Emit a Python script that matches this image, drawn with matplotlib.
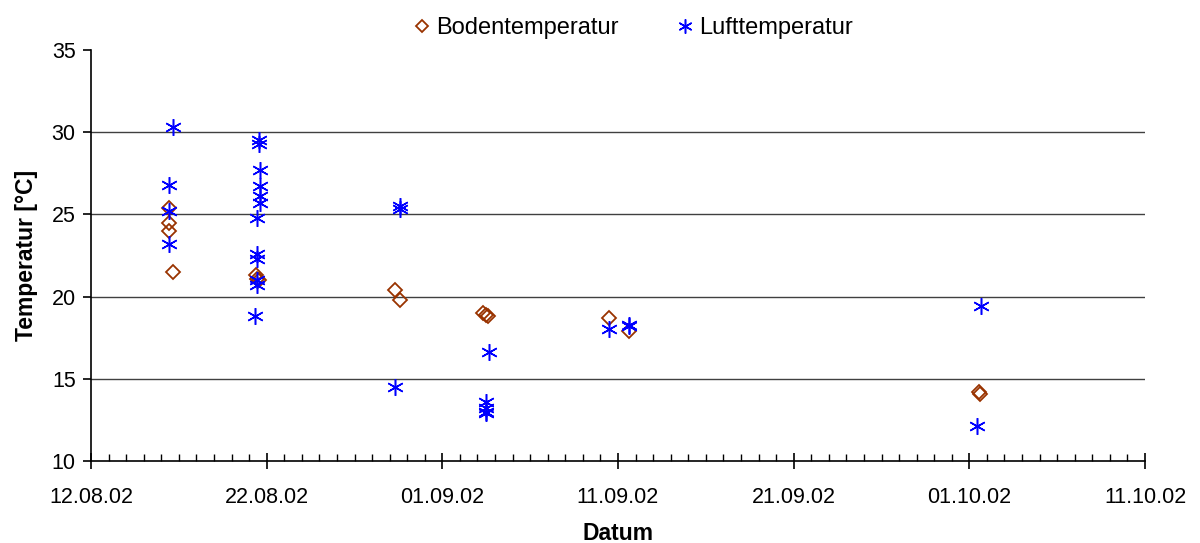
import numpy as np
import pandas as pd
import matplotlib
matplotlib.use("Agg")
import matplotlib.pyplot as plt
import matplotlib.dates as mdates

plt.rcParams['font.family'] = ['Liberation Sans', 'DejaVu Sans']

# Bodentemperatur (soil)
boden_zeit = ["2002-08-16 11:00", "2002-08-16 11:00", "2002-08-16 11:00", "2002-08-16 15:30",
              "2002-08-21 09:30", "2002-08-21 10:30", "2002-08-21 13:00",
              "2002-08-29 07:00", "2002-08-29 14:00",
              "2002-09-03 08:00", "2002-09-03 12:00", "2002-09-03 15:00",
              "2002-09-10 11:30", "2002-09-11 15:00",
              "2002-10-01 13:00", "2002-10-01 14:30"]
boden_temp = [25.4, 24.5, 24.0, 21.5,
              21.3, 21.1, 21.0,
              20.4, 19.8,
              19.0, 18.9, 18.8,
              18.7, 17.9,
              14.2, 14.1]

# Lufttemperatur (air)
luft_zeit = ["2002-08-16 15:30", "2002-08-16 11:00", "2002-08-16 11:00", "2002-08-16 10:30",
             "2002-08-21 13:30", "2002-08-21 13:30", "2002-08-21 15:30", "2002-08-21 15:00",
             "2002-08-21 15:00", "2002-08-21 14:30", "2002-08-21 10:30", "2002-08-21 11:00",
             "2002-08-21 11:00", "2002-08-21 11:00", "2002-08-21 11:00", "2002-08-21 08:30",
             "2002-08-29 14:00", "2002-08-29 14:30", "2002-08-29 07:30",
             "2002-09-03 15:30", "2002-09-03 11:00", "2002-09-03 11:00", "2002-09-03 11:00",
             "2002-09-03 11:30",
             "2002-09-10 11:30", "2002-09-11 15:00", "2002-09-11 15:00",
             "2002-10-01 15:30", "2002-10-01 11:00"]
luft_temp = [30.3, 26.8, 25.2, 23.2,
             29.5, 29.3, 27.7, 26.7,
             26.1, 25.7, 24.8, 22.6,
             22.3, 21.0, 20.7, 18.8,
             25.5, 25.3, 14.5,
             16.6, 13.6, 13.2, 13.0,
             12.9,
             18.0, 18.3, 18.2,
             19.4, 12.1]

x_ticks = ["2002-08-12", "2002-08-22", "2002-09-01", "2002-09-11",
           "2002-09-21", "2002-10-01", "2002-10-11"]

boden_x = mdates.date2num(pd.to_datetime(boden_zeit))
luft_x = mdates.date2num(pd.to_datetime(luft_zeit))
tick_x = mdates.date2num(pd.to_datetime(x_ticks))

fig = plt.figure(figsize=(12, 5.43), dpi=100)
ax = fig.add_axes([91 / 1200, 1 - 461 / 543, (1145 - 91) / 1200, (461 - 50) / 543])

ax.plot(boden_x, boden_temp, linestyle='none', marker='D', markersize=7,
        markerfacecolor='none', markeredgecolor='#993300', markeredgewidth=1.3,
        label='Bodentemperatur', zorder=3)
ax.plot(luft_x, luft_temp, linestyle='none', marker=(6, 2, 0), markersize=12,
        markeredgecolor='#0000ff', markeredgewidth=1.1, color='#0000ff',
        label='Lufttemperatur', zorder=4)

ax.set_xlim(tick_x[0], tick_x[-1])
ax.set_ylim(10, 35)
ax.set_xticks(tick_x)
ax.xaxis.set_major_formatter(mdates.DateFormatter('%d.%m.%y'))
ax.set_xticks(np.arange(tick_x[0], tick_x[-1] + 1, 1), minor=True)
ax.set_yticks(np.arange(10, 36, 5))

for y in [15, 20, 25, 30]:
    ax.axhline(y, color='#404040', linewidth=1, zorder=1)

for s in ['top', 'right']:
    ax.spines[s].set_visible(False)
ax.spines['left'].set_linewidth(1.2)
ax.spines['bottom'].set_linewidth(1.2)

ax.tick_params(axis='x', which='major', direction='inout', length=12, width=1.2,
               labelsize=15.5, pad=13)
ax.tick_params(axis='x', which='minor', direction='in', length=5, width=1)
ax.tick_params(axis='y', which='major', direction='out', length=6, width=1.2,
               labelsize=15.5, pad=5)

ax.set_xlabel('Datum', fontsize=16.5, fontweight='bold', labelpad=10)
ax.set_ylabel('Temperatur [°C]', fontsize=16.5, fontweight='bold', labelpad=10)

fig.legend(loc='upper center', bbox_to_anchor=(0.527, 1.007), ncol=2, frameon=False,
           fontsize=17, handlelength=0.8, handletextpad=0.2, columnspacing=2.4,
           markerscale=0.85)

fig.savefig('out.png', dpi=100)
